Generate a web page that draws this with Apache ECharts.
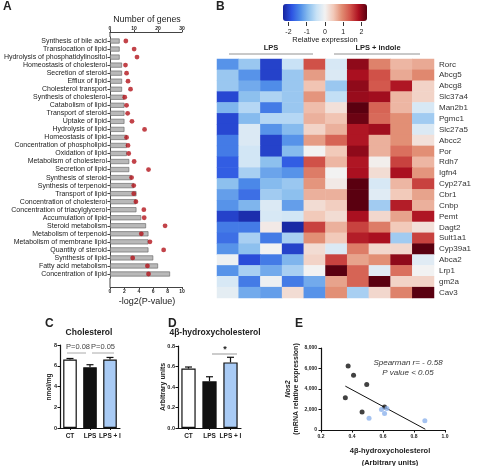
<!DOCTYPE html>
<html><head><meta charset="utf-8">
<script src="https://cdn.jsdelivr.net/npm/echarts@6/dist/echarts.min.js"></script>
<style>html,body{margin:0;padding:0;background:#fff}#c{width:480px;height:466px}</style>
</head><body><div id="c"></div>
<script>
// ---------- Panel A ----------
const pathways = ['Synthesis of bile acid','Translocation of lipid','Hydrolysis of phosphatidylinositol','Homeostasis of cholesterol','Secretion of steroid','Efflux of lipid','Cholesterol transport','Synthesis of cholesterol','Catabolism of lipid','Transport of steroid','Uptake of lipid','Hydrolysis of lipid','Homeostasis of lipid','Concentration of phospholipid','Oxidation of lipid','Metabolism of cholesterol','Secretion of lipid','Synthesis of steroid','Synthesis of terpenoid','Transport of lipid','Concentration of cholesterol','Concentration of triacylglycerol','Accumulation of lipid','Steroid metabolism','Metabolism of terpenoid','Metabolism of membrane lipid','Quantity of steroid','Synthesis of lipid','Fatty acid metabolism','Concentration of lipid'];
const geneCounts = [4,4,4,5,5,5,5,6,6,6,6,6,7,7,7,8,8,9,10,11,11,11,13,15,16,16,16,18,20,25];
const negLog2P = [2.2,3.35,3.75,2.15,2.3,2.5,2.85,2.05,2.3,2.45,3.05,4.8,2.3,2.5,2.6,3.35,5.35,3.0,3.3,3.3,3.6,4.7,4.75,7.65,4.35,5.55,7.45,3.15,5.2,5.35];

// ---------- Panel B ----------
const genes = ['Rorc','Abcg5','Abcg8','Slc37a4','Man2b1','Pgmc1','Slc27a5','Abcc2','Por','Rdh7','Igfn4','Cyp27a1','Cbr1','Cnbp','Pemt','Dagt2','Sult1a1','Cyp39a1','Abca2','Lrp1','gm2a','Cav3'];
const samples = ['LPS 1','LPS 2','LPS 3','LPS 4','LPS 5','LPS+I 1','LPS+I 2','LPS+I 3','LPS+I 4','LPS+I 5'];
const expression = [
  [-1.3,-0.8,-2.0,-0.45,1.4,-0.3,2.0,1.0,0.6,0.7],
  [-0.8,-1.3,-2.0,-0.8,0.8,-0.25,1.85,1.4,0.7,0.95],
  [-0.8,-1.1,-1.35,-0.8,0.5,-0.8,2.0,1.35,1.8,0.35],
  [-1.95,-0.9,-0.65,-0.8,0.85,-0.5,1.95,1.9,0.6,0.35],
  [-1.0,-0.6,-1.5,-0.8,0.55,0.2,2.3,1.25,0.6,-0.3],
  [-1.95,-0.95,-0.6,-0.6,0.65,0.5,2.2,1.2,0.9,-0.75],
  [-1.95,-0.25,-1.3,-0.95,0.35,0.65,1.8,1.9,0.9,-0.25],
  [-1.5,-0.25,-2.0,-1.3,0.8,1.25,1.8,0.65,0.9,0.2],
  [-1.5,-0.35,-2.0,-0.95,0.0,0.45,2.0,0.65,1.15,0.9],
  [-1.75,-0.35,-0.9,-1.75,1.4,0.6,1.8,0.05,1.5,0.6],
  [-1.75,-0.7,-1.15,-1.3,1.05,0.0,1.85,0.25,1.85,0.85],
  [-0.9,-1.4,-0.95,-0.8,0.85,0.1,2.3,-0.3,0.6,1.5],
  [-1.2,-1.6,-0.75,-0.9,0.65,0.65,2.3,-0.2,0.45,0.75],
  [-1.3,-1.0,-0.25,-1.2,0.25,0.4,2.3,-0.75,1.75,0.65],
  [-2.0,-2.2,-0.3,-0.35,0.45,0.25,1.85,0.3,0.75,1.8],
  [-1.5,-1.5,0.1,-2.25,1.5,0.65,1.5,1.05,0.45,0.2],
  [-1.6,-0.7,-1.5,-0.7,0.9,0.45,1.75,1.85,-0.75,1.5],
  [-1.3,-0.9,0.0,-2.0,0.25,-0.25,1.05,0.3,0.3,2.3],
  [-0.05,-1.9,-1.5,-1.0,0.35,1.5,0.75,0.9,2.0,-0.2],
  [-1.3,-0.7,-1.1,-0.7,0.0,2.3,1.25,-0.2,1.15,0.0],
  [-0.3,-1.5,-0.05,-1.5,-1.1,0.75,1.25,2.3,0.35,0.35],
  [-0.15,-1.1,-1.2,0.25,-1.3,0.9,-0.7,0.3,1.0,2.3]
];
const colorTicks = [-2,-1,0,1,2];

// ---------- Panels C & D ----------
const groups = ['CT','LPS','LPS + I'];
const cholMean = [6.6,5.85,6.6];
const cholErr = [0.1,0.25,0.2];
const hydroxyMean = [0.58,0.455,0.64];
const hydroxyErr = [0.015,0.045,0.05];

// ---------- Panel E ----------
const lpsX = [0.375,0.41,0.495,0.357,0.465,0.61];
const lpsY = [6250,5350,4450,3150,1750,2250];
const indX = [0.51,0.59,0.61,0.625,0.87];
const indY = [1150,2000,1600,2100,900];
const fitX = [0.357,0.873];
const fitY = [4280,75];

const F = '"Liberation Sans", Arial, Helvetica, sans-serif';
const groupFill = ['#ffffff','#111111','#a9cbf5'];

const heatData = [];
expression.forEach((row, r) => row.forEach((v, c) => heatData.push([c, r, v])));

function errRender(params, api) {
  const i = api.value(0), m = api.value(1), e = api.value(2);
  const b = api.coord([i, m]);
  const t = api.coord([i, m + e]);
  const hw = 3.5;
  return {type:'group', children:[
    {type:'line', shape:{x1:b[0], y1:b[1], x2:t[0], y2:t[1]}, style:{stroke:'#111', lineWidth:1.2}},
    {type:'line', shape:{x1:t[0]-hw, y1:t[1], x2:t[0]+hw, y2:t[1]}, style:{stroke:'#111', lineWidth:1.2}}
  ]};
}

const axBlack = {lineStyle:{color:'#111', width:1.2}};
const smallLbl = (fs, bold) => ({fontSize:fs, fontFamily:F, color:'#222', fontWeight: bold ? 'bold' : 'normal'});

function txt(text, x, y, size, opts) {
  opts = opts || {};
  return {type:'text', x:x, y:y, rotation: opts.rot || 0, z:100,
    style:{text:text, x:0, y:0, fill: opts.color || '#222',
      font: (opts.italic ? 'italic ' : '') + (opts.bold ? 'bold ' : '') + size + 'px ' + F,
      textAlign: opts.align || 'center', textVerticalAlign:'middle'}};
}
function ln(x1,y1,x2,y2,color,w){
  return {type:'line', z:100, shape:{x1:x1,y1:y1,x2:x2,y2:y2}, style:{stroke:color, lineWidth:w||1}};
}

const option = {
  backgroundColor:'#fff',
  animation:false,
  grid:[
    {left:110, top:37, width:72, height:241},   // A
    {left:217, top:59, width:217, height:239},  // B heatmap
    {left:283, top:21, width:84, height:1},     // B colour ticks
    {left:60, top:345, width:60, height:83},    // C
    {left:178, top:346, width:63, height:82},   // D
    {left:321, top:348, width:124, height:82}   // E
  ],
  xAxis:[
    {gridIndex:0, type:'value', min:0, max:10, interval:2, position:'bottom', offset:9,
      axisLine:{show:true, lineStyle:{color:'#444', width:1}}, axisTick:{show:true, length:2, lineStyle:{color:'#444'}},
      axisLabel:{...smallLbl(5, true), margin:2}, splitLine:{show:false}},
    {gridIndex:0, type:'value', min:0, max:30, interval:10, position:'top', offset:5,
      axisLine:{show:true, lineStyle:{color:'#444', width:1}}, axisTick:{show:true, length:2, lineStyle:{color:'#444'}},
      axisLabel:{...smallLbl(5, true), margin:1}, splitLine:{show:false}},
    {gridIndex:1, type:'category', data:samples, show:false},
    {gridIndex:2, type:'value', min:-2.3, max:2.3, position:'bottom',
      axisLine:{show:false}, axisTick:{show:true, customValues:colorTicks, length:4, lineStyle:{color:'#333'}},
      axisLabel:{show:true, customValues:colorTicks, ...smallLbl(7, false), margin:7}, splitLine:{show:false}},
    {gridIndex:3, type:'category', data:groups, axisLine:{show:true, ...axBlack},
      axisTick:{show:true, alignWithLabel:true, length:2, lineStyle:{color:'#111'}},
      axisLabel:{...smallLbl(6.5, true), margin:5, interval:0}},
    {gridIndex:4, type:'category', data:groups, axisLine:{show:true, ...axBlack},
      axisTick:{show:true, alignWithLabel:true, length:2, lineStyle:{color:'#111'}},
      axisLabel:{...smallLbl(6.5, true), margin:5, interval:0}},
    {gridIndex:5, type:'value', min:0.2, max:1.0, interval:0.2,
      axisLine:{show:true, ...axBlack}, axisTick:{show:true, length:2.5, lineStyle:{color:'#111'}},
      axisLabel:{...smallLbl(5, true), margin:4, formatter:v=>v.toFixed(1)}, splitLine:{show:false}}
  ],
  yAxis:[
    {gridIndex:0, type:'category', data:pathways, inverse:true,
      axisLine:{show:true, lineStyle:{color:'#444', width:1}},
      axisTick:{show:true, alignWithLabel:true, length:2.5, lineStyle:{color:'#444'}},
      axisLabel:{fontSize:7, fontFamily:F, color:'#222', margin:3, interval:0}},
    {gridIndex:1, type:'category', data:genes, inverse:true, position:'right',
      axisLine:{show:false}, axisTick:{show:false},
      axisLabel:{fontSize:8, fontFamily:F, color:'#333', margin:5, interval:0}},
    {gridIndex:2, type:'value', show:false},
    {gridIndex:3, type:'value', min:0, max:8, interval:2,
      axisLine:{show:true, ...axBlack}, axisTick:{show:true, length:2.5, lineStyle:{color:'#111'}},
      axisLabel:{...smallLbl(5.5, true), margin:3}, splitLine:{show:false}},
    {gridIndex:4, type:'value', min:0, max:0.8, interval:0.2,
      axisLine:{show:true, ...axBlack}, axisTick:{show:true, length:2.5, lineStyle:{color:'#111'}},
      axisLabel:{...smallLbl(5.5, true), margin:3, formatter:v=>v.toFixed(1)}, splitLine:{show:false}},
    {gridIndex:5, type:'value', min:0, max:8000, interval:2000,
      axisLine:{show:true, ...axBlack}, axisTick:{show:true, length:2.5, lineStyle:{color:'#111'}},
      axisLabel:{...smallLbl(5, true), margin:4}, splitLine:{show:false}}
  ],
  visualMap:[{
    type:'continuous', seriesIndex:2, min:-2.3, max:2.3, orient:'horizontal',
    left:283, top:4, itemWidth:17, itemHeight:84, padding:0, calculable:false,
    inRange:{color:['#17249e','#2c52e2','#4c8ae8','#8abeee','#c8e2f6','#f2f2f2','#f2c9b9','#e18c72','#d2544a','#ac1020','#5a0010']}
  }],
  series:[
    {type:'bar', xAxisIndex:1, yAxisIndex:0, data:geneCounts, barWidth:5,
      itemStyle:{color:'#b9b9b9', borderColor:'#5e5e5e', borderWidth:0.6}},
    {type:'scatter', xAxisIndex:0, yAxisIndex:0, data:negLog2P.map((v,i)=>[v,i]), symbolSize:4.8,
      itemStyle:{color:'#b3141c'}, z:5},
    {type:'heatmap', xAxisIndex:2, yAxisIndex:1, data:heatData, itemStyle:{borderWidth:0}},
    {type:'bar', xAxisIndex:4, yAxisIndex:3, barWidth:'68%',
      data:cholMean.map((v,i)=>({value:v, itemStyle:{color:groupFill[i], borderColor:'#111', borderWidth:1.2}}))},
    {type:'custom', xAxisIndex:4, yAxisIndex:3, renderItem:errRender, encode:{x:0,y:1},
      data:cholMean.map((v,i)=>[i, v, cholErr[i]]), z:3},
    {type:'bar', xAxisIndex:5, yAxisIndex:4, barWidth:'68%',
      data:hydroxyMean.map((v,i)=>({value:v, itemStyle:{color:groupFill[i], borderColor:'#111', borderWidth:1.2}}))},
    {type:'custom', xAxisIndex:5, yAxisIndex:4, renderItem:errRender, encode:{x:0,y:1},
      data:hydroxyMean.map((v,i)=>[i, v, hydroxyErr[i]]), z:3},
    {type:'scatter', xAxisIndex:6, yAxisIndex:5, data:lpsX.map((x,i)=>[x, lpsY[i]]), symbolSize:5,
      itemStyle:{color:'#111'}},
    {type:'scatter', xAxisIndex:6, yAxisIndex:5, data:indX.map((x,i)=>[x, indY[i]]), symbolSize:5,
      itemStyle:{color:'#8db3ec'}},
    {type:'line', xAxisIndex:6, yAxisIndex:5, data:fitX.map((x,i)=>[x, fitY[i]]), symbol:'none',
      lineStyle:{color:'#111', width:1}, z:1}
  ],
  graphic:[
    txt('A', 3, 7, 12, {bold:true, align:'left'}),
    txt('B', 216, 7, 12, {bold:true, align:'left'}),
    txt('C', 45, 324, 12, {bold:true, align:'left'}),
    txt('D', 168, 324, 12, {bold:true, align:'left'}),
    txt('E', 295, 324, 12, {bold:true, align:'left'}),
    txt('Number of genes', 147, 20, 8.8),
    txt('-log2(P-value)', 147, 302, 9),
    ln(110,32,110,37,'#444',1), ln(110,278,110,287,'#444',1),
    txt('Relative expression', 325, 40, 7.5),
    txt('LPS', 271, 48, 7.5, {bold:true}),
    txt('LPS + indole', 378, 48, 7.5, {bold:true}),
    ln(229,54,313,54,'#777',0.8), ln(334,54,420,54,'#777',0.8),
    txt('Cholesterol', 89, 333, 8.5, {bold:true}),
    txt('nmol/mg', 49, 387, 6.5, {bold:true, rot:Math.PI/2}),
    txt('P=0.08', 78, 347, 7.5, {color:'#444'}),
    txt('P=0.05', 103, 347, 7.5, {color:'#444'}),
    ln(67,353,86,353,'#aaa',1), ln(92,353,114,353,'#aaa',1),
    txt('4\u03b2-hydroxycholesterol', 215, 333, 8.5, {bold:true}),
    txt('Arbitrary units', 163, 387, 7, {bold:true, rot:Math.PI/2}),
    txt('*', 225, 350, 9, {bold:true}),
    ln(212,354,237,354,'#999',1),
    txt('Spearman r= - 0.58', 408, 363, 8, {italic:true, color:'#333'}),
    txt('P value < 0.05', 408, 373, 8, {italic:true, color:'#333'}),
    txt('4\u03b2-hydroxycholesterol', 390, 451, 7.5, {bold:true}),
    txt('(Arbitrary units)', 390, 463, 7.5, {bold:true}),
    txt('Nos2', 288, 389, 7, {bold:true, italic:true, rot:Math.PI/2}),
    txt('(mRNA relative expression)', 296, 389, 7, {bold:true, rot:Math.PI/2})
  ]
};
const chart = echarts.init(document.getElementById('c'));
chart.setOption(option);
</script>
</body></html>
